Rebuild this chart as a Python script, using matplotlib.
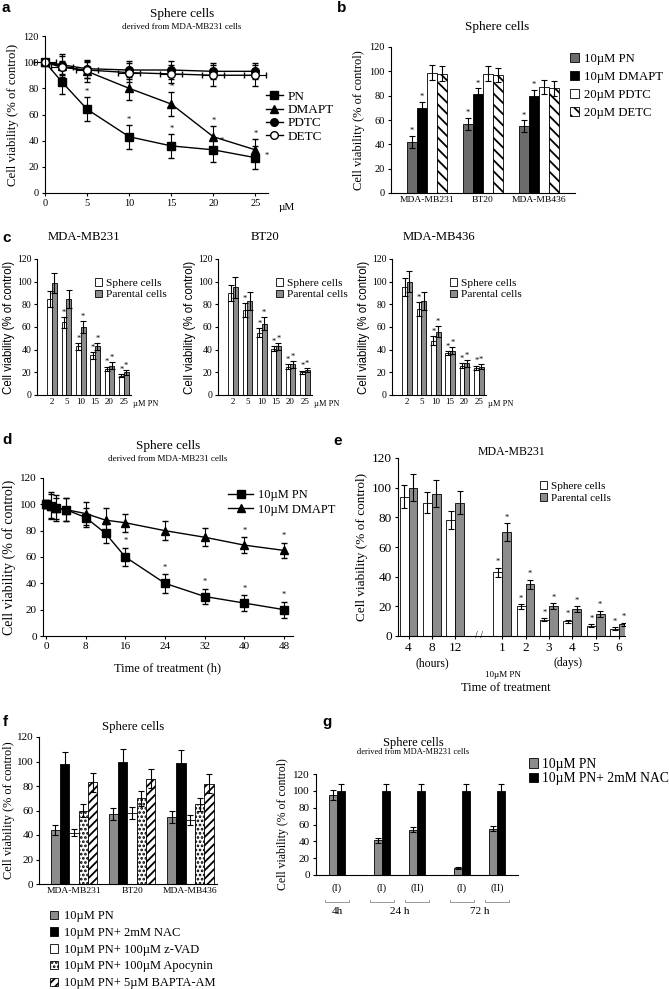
import numpy as np
import matplotlib
matplotlib.use("Agg")
import matplotlib.pyplot as plt
from matplotlib.patches import Patch
from matplotlib.lines import Line2D

plt.rcParams["font.family"] = ["Liberation Serif", "DejaVu Serif"]
plt.rcParams["hatch.linewidth"] = 1.3
plt.rcParams["axes.linewidth"] = 0.8

# ---- panel a: dose response, sphere cells ----
a_dose = [0, 2, 5, 10, 15, 20, 25]
a_pn = [100, 85, 64, 43, 36, 33, 27]
a_pn_err = [2, 9, 9, 9, 9, 9, 9]
a_dmapt = [100, 97, 93, 80, 68, 43, 33]
a_dmapt_err = [2, 8, 8, 9, 9, 8, 8]
a_pdtc = [100, 98, 95, 94, 94, 93, 93]
a_pdtc_err = [2, 8, 7, 7, 7, 6, 6]
a_detc = [100, 96, 94, 92, 91, 90, 90]
a_detc_err = [2, 5, 6, 7, 7, 8, 8]

# ---- panel b ----
b_lines = ["MDA-MB231", "BT20", "MDA-MB436"]
b_pn = [42, 57, 55]
b_dmapt = [70, 81, 80]
b_pdtc = [99, 98, 87]
b_detc = [98, 97, 86]
b_pn_err = [5, 5, 5]
b_dmapt_err = [5, 5, 5]
b_pdtc_err = [6, 6, 6]
b_detc_err = [6, 6, 6]

# ---- panel c ----
c_dose = ["2", "5", "10", "15", "20", "25"]
c_titles = ["MDA-MB231", "BT20", "MDA-MB436"]
c_sphere = [[85, 64, 43, 35, 23, 17],
            [90, 75, 55, 41, 25, 20],
            [95, 76, 48, 37, 26, 24]]
c_sphere_err = [[7, 5, 3, 3, 2, 1.5],
                [7, 6, 4, 2, 2, 1.5],
                [8, 6, 4, 2, 2, 2]]
c_parent = [[99, 85, 60, 43, 26, 20],
            [95, 83, 63, 43, 27, 22],
            [100, 83, 56, 39, 28, 25]]
c_parent_err = [[9, 8, 5, 3, 3, 2],
                [9, 8, 6, 3, 3, 2],
                [9, 8, 5, 3, 3, 2]]

# ---- panel d: time course ----
d_time = [0, 1, 2, 4, 8, 12, 16, 24, 32, 40, 48]
d_pn = [100, 99, 97, 96, 90, 78, 60, 40, 30, 25, 20]
d_pn_err = [3, 9, 8, 9, 7, 7, 7, 7, 6, 6, 6]
d_dmapt = [100, 99, 97, 96, 93, 88, 86, 80, 75, 69, 65]
d_dmapt_err = [3, 10, 10, 9, 9, 9, 7, 7, 7, 6, 6]

# ---- panel e ----
e_labels = ["4", "8", "12", "1", "2", "3", "4", "5", "6"]
e_sphere = [94, 90, 78, 43, 20, 11, 10, 7, 5]
e_sphere_err = [8, 7, 6, 3, 1.5, 1, 1, 1, 1]
e_parent = [100, 96, 90, 70, 35, 20, 18, 15, 8]
e_parent_err = [9, 9, 8, 6, 3, 2, 2, 2, 1]

# ---- panel f ----
f_lines = ["MDA-MB231", "BT20", "MDA-MB436"]
f_names = ["10µM PN", "10µM PN+ 2mM NAC", "10µM PN+ 100µM z-VAD",
           "10µM PN+ 100µM Apocynin", "10µM PN+ 5µM BAPTA-AM"]
f_vals = [[44, 57, 55], [98, 100, 99], [42, 58, 52], [60, 70, 65], [83, 86, 82]]
f_errs = [[4, 5, 5], [10, 10, 10], [3, 5, 4], [5, 6, 5], [8, 8, 8]]

# ---- panel g ----
g_groups = ["(I)", "(I)", "(II)", "(I)", "(II)"]
g_pn = [95, 41, 54, 8, 55]
g_pn_err = [6, 3, 3, 1, 3]
g_nac = [100, 100, 100, 100, 100]
g_nac_err = [8, 8, 8, 8, 8]

W, H = 669, 989
fig = plt.figure(figsize=(W / 100, H / 100), dpi=100)


def add_ax(l, t, r, b):
    ax = fig.add_axes([l / W, 1 - b / H, (r - l) / W, (b - t) / H])
    ax.spines["top"].set_visible(False)
    ax.spines["right"].set_visible(False)
    ax.tick_params(direction="out", length=2.5, width=0.8, labelsize=7.5, pad=2)
    ax.set_ylim(0, 120)
    ax.set_yticks(range(0, 121, 20))
    return ax


def ftext(x, y, s, **kw):
    fig.text(x / W, 1 - y / H, s, **kw)


def label(x, y, s):
    ftext(x, y, s, family="Liberation Sans", weight="bold", fontsize=11, va="center")


def stars(ax, xs, ys, dy=2, size=6):
    for x, y in zip(xs, ys):
        ax.text(x, y + dy, "*", ha="center", va="bottom", fontsize=size)


ebar = dict(fmt="none", ecolor="k", elinewidth=0.8, capsize=2.2, capthick=0.8)
YLAB = "Cell viability (% of control)"

# ---------------- a ----------------
label(2, 8, "a")
ftext(182, 14, "Sphere cells", ha="center", va="center", fontsize=9.5)
ftext(182, 27, "derived from MDA-MB231 cells", ha="center", va="center", fontsize=6.5)
ax = add_ax(45, 36, 268, 193)
ax.set_xlim(0, 26.5)
ax.set_xticks([0, 5, 10, 15, 20, 25])
ax.set_ylabel(YLAB, fontsize=9.2, labelpad=3)
common = dict(color="k", ms=5.5, lw=1, elinewidth=0.8, capsize=2.2, clip_on=False)
ax.errorbar(a_dose, a_pn, yerr=a_pn_err, marker="s", **common)
ax.errorbar(a_dose, a_dmapt, yerr=a_dmapt_err, marker="^", **common)
ax.errorbar(a_dose, a_pdtc, yerr=a_pdtc_err, marker="o", **common)
ax.errorbar(a_dose, a_detc, yerr=a_detc_err, xerr=1.3, marker="o", mfc="white", **common)
stars(ax, [5, 10, 15], [73, 52, 45], dy=1)
ax.text(21, 38, "*", fontsize=6, ha="center")
ax.text(26.3, 27, "*", fontsize=6, ha="center")
stars(ax, [15, 20, 25], [77, 51, 41], dy=1)
ftext(287, 207, "µM", ha="center", va="center", fontsize=8)
handles = [Line2D([], [], color="k", marker=m, ms=5.5, mfc=fc, lw=1)
           for m, fc in [("s", "k"), ("^", "k"), ("o", "k"), ("o", "white")]]
fig.legend(handles, ["PN", "DMAPT", "PDTC", "DETC"], loc="upper left",
           bbox_to_anchor=(259 / W, 1 - 84 / H), frameon=False, fontsize=9.5,
           handlelength=1.3, handletextpad=0.35, labelspacing=0.08, borderpad=0)

# ---------------- b ----------------
label(337, 8, "b")
ftext(497, 27, "Sphere cells", ha="center", va="center", fontsize=9.5)
ax = add_ax(391, 47, 575, 193)
ax.set_xlim(-0.64, 2.64)
ax.set_xticks(range(3))
ax.set_xticklabels(b_lines, fontsize=6.8)
ax.tick_params(axis="x", length=0)
ax.set_ylabel(YLAB, fontsize=9, labelpad=3)
x = np.arange(3)
w = 0.18
b_series = [(b_pn, b_pn_err, dict(color="#6b6b6b", edgecolor="k")),
            (b_dmapt, b_dmapt_err, dict(color="k", edgecolor="k")),
            (b_pdtc, b_pdtc_err, dict(color="white", edgecolor="k")),
            (b_detc, b_detc_err, dict(color="white", edgecolor="k", hatch="\\\\\\"))]
for i, (v, e, st) in enumerate(b_series):
    xi = x + (i - 1.5) * w
    ax.bar(xi, v, w, lw=0.6, **st)
    ax.errorbar(xi, v, yerr=e, **ebar)
    if i < 2:
        stars(ax, xi, np.add(v, e), dy=0.5)
b_handles = [Patch(facecolor=st.get("color"), edgecolor="k", hatch=st.get("hatch"), lw=0.6)
             for _, _, st in b_series]
fig.legend(b_handles, ["10µM PN", "10µM DMAPT", "20µM PDTC", "20µM DETC"],
           loc="upper left", bbox_to_anchor=(564 / W, 1 - 47 / H), frameon=False,
           fontsize=9.2, handlelength=0.7, handleheight=0.7, handletextpad=0.4,
           labelspacing=0.45, borderpad=0)

# ---------------- c ----------------
label(2, 238, "c")
c_lefts = [37, 218, 392]
for k in range(3):
    l = c_lefts[k]
    ax = add_ax(l, 259, l + 94, 395)
    ax.set_xlim(-1.05, 5.5)
    xc = np.arange(6)
    wc = 0.33
    ax.bar(xc - wc / 2, c_sphere[k], wc, color="white", edgecolor="k", lw=0.6)
    ax.errorbar(xc - wc / 2, c_sphere[k], yerr=c_sphere_err[k], **ebar)
    ax.bar(xc + wc / 2, c_parent[k], wc, color="#8c8c8c", edgecolor="k", lw=0.6)
    ax.errorbar(xc + wc / 2, c_parent[k], yerr=c_parent_err[k], **ebar)
    ax.set_xticks(xc)
    ax.set_xticklabels(c_dose, fontsize=6.5)
    ax.tick_params(axis="x", length=0)
    ax.tick_params(axis="y", labelsize=7, pad=1.5)
    ax.set_ylabel(YLAB, family="Liberation Sans", fontsize=8.3, labelpad=1)
    ax.set_title(c_titles[k], fontsize=9.2, pad=14)
    stars(ax, xc[1:] - wc / 2, np.add(c_sphere[k], c_sphere_err[k])[1:], dy=0.3)
    stars(ax, xc[2:] + wc / 2, np.add(c_parent[k], c_parent_err[k])[2:], dy=0.3)
    ax.text(5.65, -4, "µM PN", fontsize=6, va="top", clip_on=False)
    ax.legend([Patch(facecolor="white", edgecolor="k", lw=0.6),
               Patch(facecolor="#8c8c8c", edgecolor="k", lw=0.6)],
              ["Sphere cells", "Parental cells"], loc="upper left",
              bbox_to_anchor=(0.56, 0.9), frameon=False, fontsize=8.2,
              handlelength=0.6, handleheight=0.6, handletextpad=0.35,
              labelspacing=0.15, borderpad=0)

# ---------------- d ----------------
label(2, 440, "d")
ftext(168, 446, "Sphere cells", ha="center", va="center", fontsize=9.5)
ftext(168, 459, "derived from MDA-MB231 cells", ha="center", va="center", fontsize=6.5)
ax = add_ax(43, 478, 293, 636)
ax.set_xlim(-0.6, 49.8)
ax.set_xticks(range(0, 49, 8))
ax.tick_params(labelsize=8)
ax.set_ylabel(YLAB, fontsize=10, labelpad=3)
ax.set_xlabel("Time of treatment (h)", fontsize=9, labelpad=8)
ax.errorbar(d_time, d_pn, yerr=d_pn_err, marker="s", **common)
ax.errorbar(d_time, d_dmapt, yerr=d_dmapt_err, marker="^", **common)
stars(ax, d_time[6:], np.add(d_pn, d_pn_err)[6:], dy=2)
stars(ax, d_time[9:], np.add(d_dmapt, d_dmapt_err)[9:], dy=2)
fig.legend(handles[:2], ["10µM PN", "10µM DMAPT"], loc="upper left",
           bbox_to_anchor=(222 / W, 1 - 483 / H), frameon=False, fontsize=9,
           handlelength=2.0, handletextpad=0.4, labelspacing=0.2, borderpad=0)

# ---------------- e ----------------
label(333, 441, "e")
ax = add_ax(398, 458, 625, 636)
xe = np.array([0, 1, 2, 4, 5, 6, 7, 8, 9])
we = 0.38
ax.set_xlim(-0.45, 9.25)
ax.bar(xe - we / 2, e_sphere, we, color="white", edgecolor="k", lw=0.6)
ax.errorbar(xe - we / 2, e_sphere, yerr=e_sphere_err, **ebar)
ax.bar(xe + we / 2, e_parent, we, color="#8c8c8c", edgecolor="k", lw=0.6)
ax.errorbar(xe + we / 2, e_parent, yerr=e_parent_err, **ebar)
ax.set_xticks(xe)
ax.set_xticklabels(e_labels, fontsize=9.5)
ax.tick_params(axis="y", labelsize=9.5)
ax.set_ylabel(YLAB, fontsize=9.5, labelpad=3)
ax.set_title("MDA-MB231", fontsize=8.5, pad=-8)
stars(ax, xe[3:] - we / 2, np.add(e_sphere, e_sphere_err)[3:], dy=1)
stars(ax, xe[3:] + we / 2, np.add(e_parent, e_parent_err)[3:], dy=1)
ax.text(3, 0, "/ /", fontsize=7, ha="center", va="center", clip_on=False)
ax.legend([Patch(facecolor="white", edgecolor="k", lw=0.6),
           Patch(facecolor="#8c8c8c", edgecolor="k", lw=0.6)],
          ["Sphere cells", "Parental cells"], loc="upper left",
          bbox_to_anchor=(0.6, 0.9), frameon=False, fontsize=8,
          handlelength=0.65, handleheight=0.65, handletextpad=0.4,
          labelspacing=0.2, borderpad=0)
ftext(432, 663, "(hours)", ha="center", va="center", fontsize=8.5)
ftext(568, 663, "(days)", ha="center", va="center", fontsize=8.5)
ftext(503, 675, "10µM PN", ha="center", va="center", fontsize=6.5)
ftext(506, 688, "Time of treatment", ha="center", va="center", fontsize=9)

# ---------------- f ----------------
label(3, 722, "f")
ftext(133, 727, "Sphere cells", ha="center", va="center", fontsize=9.2)
ax = add_ax(39, 737, 217, 884)
ax.set_xlim(-0.6, 2.46)
ax.set_xticks(range(3))
ax.set_xticklabels(f_lines, fontsize=6.8)
ax.tick_params(axis="x", length=0)
ax.tick_params(axis="y", labelsize=8, pad=1.5)
ax.set_ylabel(YLAB, fontsize=8.8, labelpad=1.5)
wf = 0.16
f_styles = [dict(color="#8c8c8c"), dict(color="k"), dict(color="white"),
            dict(color="white", hatch="...."), dict(color="white", hatch="////")]
for i in range(5):
    xi = np.arange(3) + (i - 2) * wf
    ax.bar(xi, f_vals[i], wf, edgecolor="k", lw=0.6, **f_styles[i])
    ax.errorbar(xi, f_vals[i], yerr=f_errs[i], **ebar)
fig.legend([Patch(facecolor=s["color"], edgecolor="k", hatch=s.get("hatch"), lw=0.6)
            for s in f_styles], f_names, loc="upper left",
           bbox_to_anchor=(44 / W, 1 - 904 / H), frameon=False, fontsize=9,
           handlelength=0.65, handleheight=0.65, handletextpad=0.45,
           labelspacing=0.38, borderpad=0)

# ---------------- g ----------------
label(322, 722, "g")
ftext(413, 743, "Sphere cells", ha="center", va="center", fontsize=9)
ftext(413, 752, "derived from MDA-MB231 cells", ha="center", va="center", fontsize=6)
ax = add_ax(316, 774, 518, 875)
xg = np.array([0, 1.125, 2, 3.125, 4])
wg = 0.21
ax.set_xlim(-0.525, 4.525)
ax.bar(xg - wg / 2, g_pn, wg, color="#8c8c8c", edgecolor="k", lw=0.6)
ax.errorbar(xg - wg / 2, g_pn, yerr=g_pn_err, **ebar)
ax.bar(xg + wg / 2, g_nac, wg, color="k", edgecolor="k", lw=0.6)
ax.errorbar(xg + wg / 2, g_nac, yerr=g_nac_err, **ebar)
ax.set_xticks(xg)
ax.set_xticklabels(g_groups, fontsize=7.5)
ax.tick_params(axis="x", length=0, pad=6)
ax.tick_params(axis="y", labelsize=8)
ax.set_ylabel(YLAB, fontsize=8.5, labelpad=3)
for xb in xg:
    ax.plot([xb - 0.3, xb - 0.3, xb + 0.3, xb + 0.3], [-30, -32, -32, -30],
            color="#888888", lw=0.6, clip_on=False)
for xt, s in [(0, "4h"), (1.56, "24 h"), (3.56, "72 h")]:
    ax.text(xt, -38, s, fontsize=8, ha="center", va="top", clip_on=False)
fig.legend([Patch(facecolor="#8c8c8c", edgecolor="k", lw=0.6),
            Patch(facecolor="k", edgecolor="k", lw=0.6)],
           ["10µM PN", "10µM PN+ 2mM NAC"], loc="upper left",
           bbox_to_anchor=(522 / W, 1 - 751 / H), frameon=False, fontsize=9.8,
           handlelength=0.65, handleheight=0.65, handletextpad=0.35,
           labelspacing=0.1, borderpad=0)

fig.savefig("out.png", dpi=100)
